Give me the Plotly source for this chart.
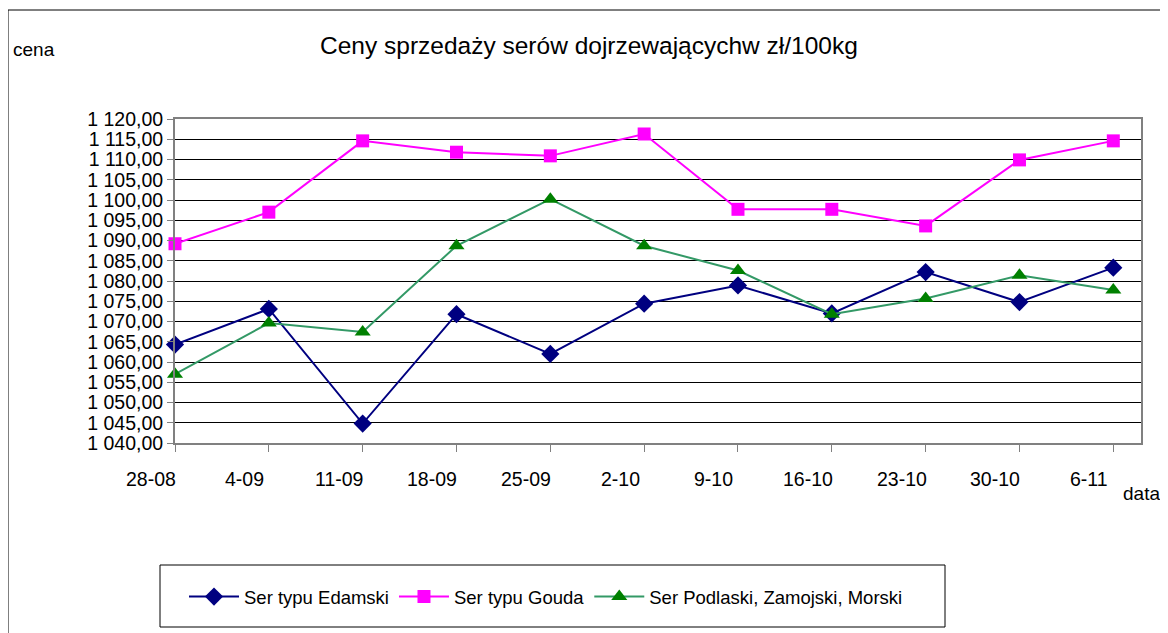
import plotly.graph_objects as go

categories = ["28-08", "4-09", "11-09", "18-09", "25-09", "2-10", "9-10", "16-10", "23-10", "30-10", "6-11"]
edamski = [1064.3, 1073.1, 1044.8, 1071.8, 1062.0, 1074.4, 1078.9, 1072.0, 1082.2, 1074.8, 1083.3]
gouda = [1089.2, 1097.0, 1114.6, 1111.8, 1110.9, 1116.3, 1097.7, 1097.7, 1093.6, 1109.9, 1114.6]
podlaski = [1057.0, 1069.6, 1067.4, 1088.7, 1100.2, 1088.7, 1082.6, 1071.8, 1075.7, 1081.4, 1077.8]
y_ticks = [1040, 1045, 1050, 1055, 1060, 1065, 1070, 1075, 1080, 1085, 1090, 1095, 1100, 1105, 1110, 1115, 1120]
y_labels = ["1 040,00", "1 045,00", "1 050,00", "1 055,00", "1 060,00", "1 065,00", "1 070,00", "1 075,00",
            "1 080,00", "1 085,00", "1 090,00", "1 095,00", "1 100,00", "1 105,00", "1 110,00", "1 115,00", "1 120,00"]

# page pixel layout (browser body has an 8px margin, compensated below)
OFF = 8
W, H = 1168, 633
L, R, T, B = 175, 1141, 119, 443
pw, ph = R - L, B - T
STEP = 93.83  # px per category

def px(xp):
    return (xp - L) / pw

def py(yp):
    return (B - yp) / ph

xs = list(range(len(categories)))
FONT = "Arial, Liberation Sans, sans-serif"

fig = go.Figure()
fig.add_trace(go.Scatter(x=xs, y=edamski, name="Ser typu Edamski", mode="lines+markers", cliponaxis=False,
                         line=dict(color="#000080", width=2),
                         marker=dict(symbol="diamond", size=14, color="#000080")))
fig.add_trace(go.Scatter(x=xs, y=gouda, name="Ser typu Gouda", mode="lines+markers", cliponaxis=False,
                         line=dict(color="#FF00FF", width=2),
                         marker=dict(symbol="square", size=13, color="#FF00FF")))
fig.add_trace(go.Scatter(x=xs, y=podlaski, name="Ser Podlaski, Zamojski, Morski", mode="lines+markers",
                         cliponaxis=False,
                         line=dict(color="#339966", width=2),
                         marker=dict(symbol="triangle-up", size=14, color="#008000")))

annotations = []
for i, c in enumerate(categories):
    annotations.append(dict(x=px(L + i * STEP - 24), y=py(479), xref="paper", yref="paper", text=c,
                            showarrow=False, font=dict(size=19.5, color="black", family=FONT),
                            xanchor="center", yanchor="middle"))
annotations.append(dict(x=px(11), y=py(50), xref="paper", yref="paper", text="cena", showarrow=False,
                        font=dict(size=19, color="black", family=FONT), xanchor="left", yanchor="middle"))
annotations.append(dict(x=px(1121), y=py(493), xref="paper", yref="paper", text="data", showarrow=False,
                        font=dict(size=19, color="black", family=FONT), xanchor="left", yanchor="middle"))
annotations.append(dict(x=px(589), y=py(45), xref="paper", yref="paper",
                        text="Ceny sprzedaży serów dojrzewającychw zł/100kg", showarrow=False,
                        font=dict(size=24.5, color="black", family=FONT), xanchor="center", yanchor="middle"))

shapes = [
    dict(type="rect", xref="paper", yref="paper", x0=px(8), x1=px(1164), y0=py(700), y1=py(10),
         line=dict(color="black", width=1), fillcolor="rgba(0,0,0,0)", layer="below"),
    dict(type="rect", xref="paper", yref="paper", x0=px(160), x1=px(945), y0=py(627), y1=py(565),
         line=dict(color="black", width=1), fillcolor="rgba(0,0,0,0)", layer="below"),
]

fig.update_layout(
    width=W - OFF, height=H - OFF,
    margin=dict(l=L - OFF, r=W - R, t=T - OFF, b=H - B, pad=0),
    paper_bgcolor="white", plot_bgcolor="white",
    font=dict(family=FONT, size=19, color="black"),
    showlegend=True,
    legend=dict(orientation="h", x=px(546), y=py(597), xanchor="center", yanchor="middle",
                bgcolor="rgba(0,0,0,0)", borderwidth=0, font=dict(size=18.5, family=FONT),
                itemwidth=50),
    annotations=annotations,
    shapes=shapes,
)
fig.update_xaxes(range=[0, (R - L) / STEP], tickvals=xs, showticklabels=False,
                 ticks="outside", ticklen=7, tickcolor="#808080", tickwidth=1,
                 showgrid=False, zeroline=False, showline=True, linecolor="#808080", linewidth=2, mirror=True)
fig.update_yaxes(range=[1040, 1120], tickvals=y_ticks, ticktext=y_labels,
                 ticks="outside", ticklen=6, tickcolor="#808080", tickwidth=1,
                 tickfont=dict(size=19.5, family=FONT),
                 showgrid=True, gridcolor="black", gridwidth=1, zeroline=False,
                 showline=True, linecolor="#808080", linewidth=2, mirror=True)

fig.write_html("out.html")
